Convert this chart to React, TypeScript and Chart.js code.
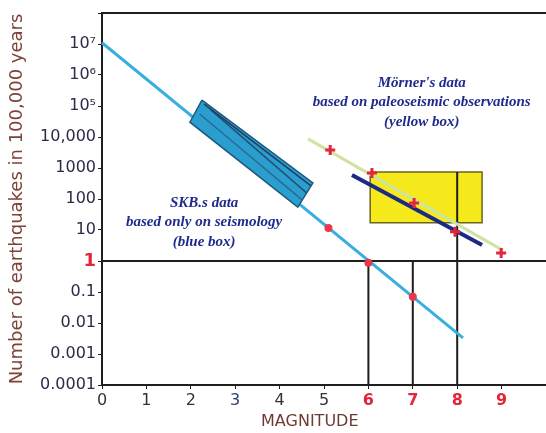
import React, { useEffect, useRef } from "react";
import { Chart, registerables } from "chart.js";

Chart.register(...registerables);

// ---- data ----
const xTickValues = [0, 1, 2, 3, 4, 5, 6, 7, 8, 9, 10];
const xTickLabels = ["0", "1", "2", "3", "4", "5", "6", "7", "8", "9", ""];
const yTickValues = [1e-4, 1e-3, 0.01, 0.1, 1, 10, 100, 1000, 1e4, 1e5, 1e6, 1e7, 1e8];
const yTickLabels = ["0.0001", "0.001", "0.01", "0.1", "1", "10", "100", "1000", "10,000", "10⁵", "10⁶", "10⁷", ""];

const skbLineX = [0, 8.13];
const skbLineY = [1.1e7, 0.0033];
const skbDotsX = [5.1, 6, 7];
const skbDotsY = [11.5, 0.87, 0.07];
const skbBoxX = [2.25, 4.75, 4.41, 1.98, 2.25];
const skbBoxY = [1.55e5, 330, 55, 3.0e4, 1.55e5];
const skbInner1X = [2.3, 4.7];
const skbInner1Y = [1.15e5, 270];
const skbInner2X = [2.45, 4.6];
const skbInner2Y = [7.5e4, 160];
const skbInner3X = [2.2, 4.5];
const skbInner3Y = [5.5e4, 95];

const mornerLineX = [4.64, 9.03];
const mornerLineY = [8700, 2.2];
const mornerPointsX = [5.14, 6.08, 7.03, 7.95, 8.99];
const mornerPointsY = [3800, 690, 74, 8.7, 1.8];
const navyLineX = [5.63, 8.56];
const navyLineY = [590, 3.3];
const yellowBoxX = [6.04, 8.56, 8.56, 6.04, 6.04];
const yellowBoxY = [740, 740, 17, 17, 740];

const hLineX = [0, 10];
const hLineY = [1, 1];
const v6X = [6, 6];
const v6Y = [1, 1e-4];
const v7X = [7, 7];
const v7Y = [1, 1e-4];
const v8X = [8, 8];
const v8Y = [740, 1e-4];

const skbText = ["SKB.s data", "based only on seismology", "(blue box)"];
const skbTextAt = { x: 2.3, y: 74 };
const mornerText = ["Mörner's data", "based on paleoseismic observations", "(yellow box)"];
const mornerTextAt = { x: 7.2, y: 5.5e5 };
const xTitle = "MAGNITUDE";
const xTitleAt = 4.68;

const zip = (xs: number[], ys: number[]) => xs.map((x, i) => ({ x, y: ys[i] }));

const RED = "#e3263a";
const BLACK = "#1e1e1e";

const textPlugin = {
  id: "notes",
  afterDatasetsDraw(chart: any) {
    const { ctx, scales } = chart;
    const draw = (lines: string[], at: { x: number; y: number }) => {
      const px = scales.x.getPixelForValue(at.x);
      const py = scales.y.getPixelForValue(at.y);
      ctx.save();
      ctx.font = "italic bold 15px 'Liberation Serif'";
      ctx.fillStyle = "#1f2b8c";
      ctx.textAlign = "center";
      ctx.textBaseline = "middle";
      lines.forEach((t, i) => ctx.fillText(t, px, py + i * 19.5));
      ctx.restore();
    };
    draw(skbText, skbTextAt);
    draw(mornerText, mornerTextAt);
    ctx.save();
    ctx.font = "16px 'DejaVu Sans'";
    ctx.fillStyle = "#6e3b33";
    ctx.textAlign = "center";
    ctx.textBaseline = "middle";
    ctx.fillText(xTitle, scales.x.getPixelForValue(xTitleAt), scales.x.bottom - 11);
    ctx.restore();
  },
};

export default function App() {
  const ref = useRef<HTMLCanvasElement>(null);
  useEffect(() => {
    document.body.style.margin = "0";
    const line = (data: any, color: string, width: number, extra: any = {}) => ({
      data,
      borderColor: color,
      backgroundColor: color,
      borderWidth: width,
      pointRadius: 0,
      fill: false,
      clip: false,
      ...extra,
    });
    const noPad = (s: any) => {
      s.paddingLeft = 0;
      s.paddingRight = 0;
    };
    const chart = new Chart(ref.current!, {
      type: "line",
      data: {
        datasets: [
          line(zip(mornerPointsX, mornerPointsY), RED, 3, {
            showLine: false,
            pointStyle: "cross",
            pointRadius: 5,
            pointBorderWidth: 3,
          }),
          line(zip(skbDotsX, skbDotsY), "#e8384a", 0, {
            showLine: false,
            pointStyle: "circle",
            pointRadius: 4,
            pointBorderWidth: 0,
          }),
          line(zip(navyLineX, navyLineY), "#1c2a86", 4),
          line(zip(mornerLineX, mornerLineY), "#cfe4a2", 3),
          line(zip(skbInner1X, skbInner1Y), "#1d3f64", 1.5),
          line(zip(skbInner2X, skbInner2Y), "#24506f", 1.5),
          line(zip(skbInner3X, skbInner3Y), "#2a6a90", 1.5),
          line(zip(skbBoxX, skbBoxY), "#1b5a80", 1.5, {
            backgroundColor: "#2b9ed0",
            fill: "shape",
          }),
          line(zip(skbLineX, skbLineY), "#3aaee0", 3),
          line(zip(hLineX, hLineY), BLACK, 2),
          line(zip(v6X, v6Y), BLACK, 2),
          line(zip(v7X, v7Y), BLACK, 2),
          line(zip(v8X, v8Y), BLACK, 2),
          line(zip(yellowBoxX, yellowBoxY), "#6b6422", 1.5, {
            backgroundColor: "#f6ea1c",
            fill: "shape",
          }),
        ],
      },
      options: {
        animation: false,
        responsive: true,
        maintainAspectRatio: false,
        layout: { autoPadding: false, padding: { top: 13, right: 0, left: 0, bottom: 0 } },
        plugins: { legend: { display: false }, tooltip: { enabled: false } },
        scales: {
          x: {
            type: "linear",
            min: 0,
            max: 10,
            afterBuildTicks: (s: any) => {
              s.ticks = xTickValues.map((v) => ({ value: v }));
            },
            afterFit: (s: any) => {
              s.height = 48;
              noPad(s);
            },
            ticks: {
              autoSkip: false,
              maxRotation: 0,
              padding: 2,
              callback: (_v: any, i: number) => xTickLabels[i],
              color: (c: any) => {
                const v = c.tick.value;
                if (v >= 6) return RED;
                if (v === 3) return "#2c3a7a";
                return "#333";
              },
              font: (c: any) => ({
                family: "DejaVu Sans",
                size: 16,
                weight: c.tick && c.tick.value >= 6 ? "bold" : "normal",
              }),
            },
            grid: { display: true, drawOnChartArea: false, drawTicks: true, tickLength: 4, color: BLACK },
            border: { display: true, color: BLACK, width: 2 },
            title: { display: false },
          },
          x2: {
            type: "linear",
            position: "top",
            min: 0,
            max: 10,
            afterFit: (s: any) => {
              s.height = 0;
              noPad(s);
            },
            ticks: { display: false },
            grid: { display: false },
            border: { display: true, color: BLACK, width: 2 },
          },
          y: {
            type: "logarithmic",
            min: 1e-4,
            max: 1e8,
            afterBuildTicks: (s: any) => {
              s.ticks = yTickValues.map((v) => ({ value: v }));
            },
            afterFit: (s: any) => {
              s.width = 102;
              s.paddingTop = 0;
              s.paddingBottom = 0;
            },
            ticks: {
              autoSkip: false,
              padding: 2,
              callback: (_v: any, i: number) => yTickLabels[i],
              color: (c: any) => (c.tick.value === 1 ? RED : "#2b2b48"),
              font: (c: any) => ({
                family: "DejaVu Sans",
                size: c.tick && c.tick.value === 1 ? 18 : 16,
                weight: c.tick && c.tick.value === 1 ? "bold" : "normal",
              }),
            },
            grid: { display: true, drawOnChartArea: false, drawTicks: true, tickLength: 4, color: BLACK },
            border: { display: true, color: BLACK, width: 2 },
            title: {
              display: true,
              text: "Number of earthquakes in 100,000 years",
              color: "#7d4238",
              font: { family: "DejaVu Sans", size: 18 },
              padding: { top: 7, bottom: 0 },
            },
          },
        },
      } as any,
      plugins: [textPlugin],
    });
    return () => chart.destroy();
  }, []);
  return (
    <div style={{ position: "relative", width: 546, height: 433, overflow: "hidden" }}>
      <canvas ref={ref} style={{ display: "block" }} />
    </div>
  );
}
